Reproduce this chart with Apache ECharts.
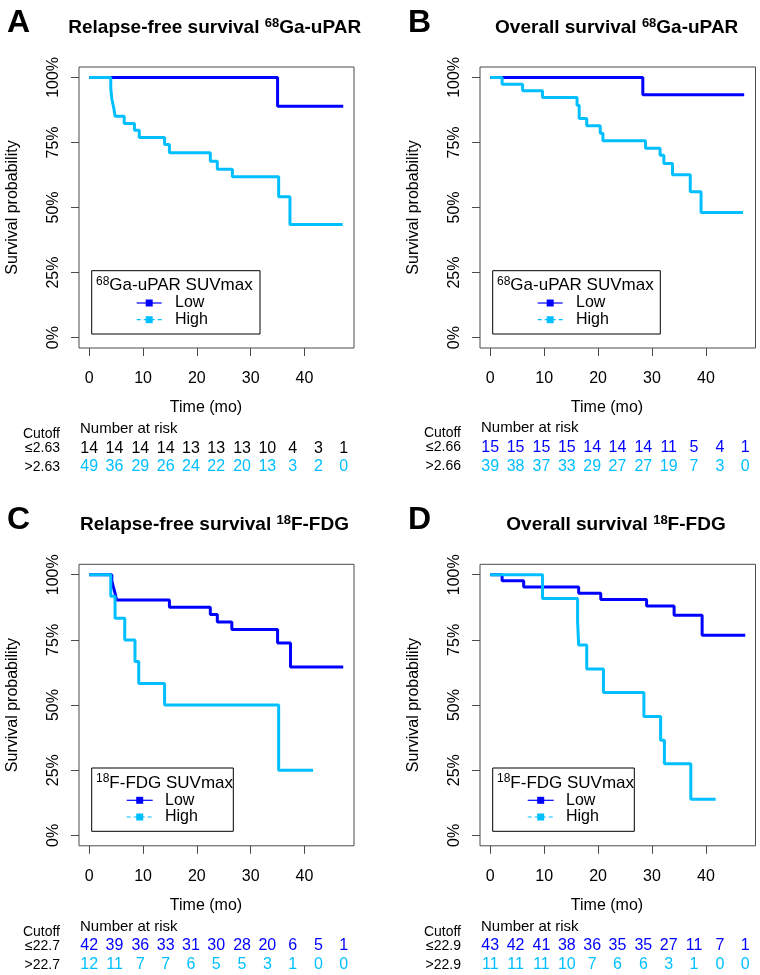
<!DOCTYPE html>
<html>
<head>
<meta charset="utf-8">
<title>Kaplan-Meier survival by SUVmax</title>
<script src="https://cdn.jsdelivr.net/npm/echarts@6/dist/echarts.min.js"></script>
<style>
  html, body { margin: 0; padding: 0; background: #fff; }
  #chart { width: 760px; height: 975px; }
</style>
</head>
<body>
<div id="chart"></div>
<script>
// ---- data: time (mo) / survival probability ----
var timeALow  = [0, 35.0, 47.2];
var survALow  = [1, 0.889, 0.889];
var timeAHigh = [0, 4.0, 4.2, 4.4, 4.6, 4.8, 6.5, 8.4, 9.3, 14.0, 14.9, 22.5, 23.8, 26.6, 35.2, 37.3, 47.1];
var survAHigh = [1, 0.959, 0.918, 0.898, 0.878, 0.851, 0.823, 0.797, 0.769, 0.742, 0.710, 0.678, 0.647, 0.618, 0.541, 0.435, 0.435];

var timeBLow  = [0, 28.3, 47.1];
var survBLow  = [1, 0.933, 0.933];
var timeBHigh = [0, 2.2, 6.0, 9.7, 16.1, 16.5, 17.9, 20.4, 20.9, 28.8, 31.5, 32.2, 33.8, 37.1, 39.1, 46.9];
var survBHigh = [1, 0.974, 0.949, 0.923, 0.893, 0.842, 0.814, 0.785, 0.757, 0.728, 0.701, 0.669, 0.626, 0.561, 0.481, 0.481];

var timeCLow  = [0, 4.2, 4.5, 4.8, 5.1, 14.9, 22.5, 23.8, 26.5, 35.0, 37.4, 47.2];
var survCLow  = [1, 0.976, 0.952, 0.929, 0.903, 0.875, 0.847, 0.819, 0.790, 0.738, 0.646, 0.646];
var timeCHigh = [0, 4.0, 4.8, 6.6, 8.5, 9.2, 14.0, 35.2, 41.6];
var survCHigh = [1, 0.917, 0.833, 0.750, 0.667, 0.583, 0.500, 0.250, 0.250];

var timeDLow  = [0, 2.2, 6.2, 16.4, 20.5, 29.0, 34.1, 39.3, 47.3];
var survDLow  = [1, 0.977, 0.953, 0.929, 0.905, 0.880, 0.845, 0.768, 0.768];
var timeDHigh = [0, 9.7, 16.2, 16.4, 17.9, 21.0, 28.5, 31.6, 32.3, 37.2, 41.8];
var survDHigh = [1, 0.909, 0.820, 0.730, 0.638, 0.548, 0.456, 0.365, 0.275, 0.139, 0.139];

// number at risk
var riskTimes = [0, 4.7, 9.5, 14.2, 18.9, 23.6, 28.4, 33.1, 37.8, 42.6, 47.3];
var riskALow  = [14, 14, 14, 14, 13, 13, 13, 10, 4, 3, 1];
var riskAHigh = [49, 36, 29, 26, 24, 22, 20, 13, 3, 2, 0];
var riskBLow  = [15, 15, 15, 15, 14, 14, 14, 11, 5, 4, 1];
var riskBHigh = [39, 38, 37, 33, 29, 27, 27, 19, 7, 3, 0];
var riskCLow  = [42, 39, 36, 33, 31, 30, 28, 20, 6, 5, 1];
var riskCHigh = [12, 11, 7, 7, 6, 5, 5, 3, 1, 0, 0];
var riskDLow  = [43, 42, 41, 38, 36, 35, 35, 27, 11, 7, 1];
var riskDHigh = [11, 11, 11, 10, 7, 6, 6, 3, 1, 0, 0];

var xTicks = [0, 10, 20, 30, 40];
var yTicks = [0, 0.25, 0.5, 0.75, 1];

var FONT = "'Liberation Sans', Arial, Helvetica, sans-serif";
var LOW = '#0000ff';
var HIGH = '#00bfff';
var FRAME = '#4a4a4a';

var panels = [
  { letter: 'A', kind: 'Relapse-free survival ', sup: '68', tracer: 'Ga-uPAR', cut: '2.63',
    x: 79, y: 67, w: 275, h: 281, cx: 214.7, ty: 28,
    low: [timeALow, survALow], high: [timeAHigh, survAHigh],
    riskLow: riskALow, riskHigh: riskAHigh, lowRow: '#000000',
    riskTop: 448.3, legW: 168.3, legLine: [45, 70], legText: 83.3 },
  { letter: 'B', kind: 'Overall survival ', sup: '68', tracer: 'Ga-uPAR', cut: '2.66',
    x: 480, y: 67, w: 275.5, h: 281, cx: 616.7, ty: 28,
    low: [timeBLow, survBLow], high: [timeBHigh, survBHigh],
    riskLow: riskBLow, riskHigh: riskBHigh, lowRow: LOW,
    riskTop: 447.5, legW: 167.6, legLine: [45, 70], legText: 83.3 },
  { letter: 'C', kind: 'Relapse-free survival ', sup: '18', tracer: 'F-FDG', cut: '22.7',
    x: 79, y: 564.3, w: 275, h: 281.5, cx: 214.5, ty: 525,
    low: [timeCLow, survCLow], high: [timeCHigh, survCHigh],
    riskLow: riskCLow, riskHigh: riskCHigh, lowRow: LOW,
    riskTop: 946, legW: 141.6, legLine: [35, 61], legText: 73.3 },
  { letter: 'D', kind: 'Overall survival ', sup: '18', tracer: 'F-FDG', cut: '22.9',
    x: 480, y: 564.3, w: 275.5, h: 281.5, cx: 616, ty: 525,
    low: [timeDLow, survDLow], high: [timeDHigh, survDHigh],
    riskLow: riskDLow, riskHigh: riskDHigh, lowRow: LOW,
    riskTop: 946, legW: 141.6, legLine: [35, 61], legText: 73.3 }
];

function zip(t, s) {
  return t.map(function (v, i) { return [v, s[i]]; });
}

function riskData(row, values) {
  return riskTimes.map(function (t, i) { return [t, row, values[i]]; });
}

function txt(x, y, text, size, opts) {
  opts = opts || {};
  return {
    type: 'text', x: x, y: y, rotation: opts.rotation || 0, z: 10,
    style: {
      text: text, fontSize: size, fontFamily: FONT,
      fontWeight: opts.bold ? 'bold' : 'normal',
      fill: opts.color || '#000',
      align: opts.align || 'left', verticalAlign: 'middle',
      rich: opts.rich
    }
  };
}

var grids = [], xAxes = [], yAxes = [], series = [], graphics = [];

panels.forEach(function (p, i) {
  var gi = i * 2;
  // main plot and risk table grids
  grids.push({ left: p.x, top: p.y, width: p.w, height: p.h, show: true,
    borderColor: FRAME, borderWidth: 1, backgroundColor: 'transparent' });
  grids.push({ left: p.x, top: p.riskTop, width: p.w, height: 18.7, show: false });

  xAxes.push({
    gridIndex: gi, type: 'value', min: -1.9, max: 49.2,
    axisLine: { show: false, onZero: false }, splitLine: { show: false },
    axisTick: { show: true, length: 8, customValues: xTicks, lineStyle: { color: FRAME } },
    axisLabel: { customValues: xTicks, fontSize: 16, fontFamily: FONT, color: '#000', margin: 23 }
  });
  xAxes.push({ gridIndex: gi + 1, type: 'value', min: -1.9, max: 49.2, show: false });

  yAxes.push({
    gridIndex: gi, type: 'value', min: -0.04, max: 1.04,
    axisLine: { show: false, onZero: false }, splitLine: { show: false },
    axisTick: { show: true, length: 8, customValues: yTicks, lineStyle: { color: FRAME } },
    axisLabel: {
      customValues: yTicks, rotate: 90, fontSize: 16, fontFamily: FONT, color: '#000', margin: 17,
      formatter: function (v) { return Math.round(v * 100) + '%'; }
    }
  });
  yAxes.push({ gridIndex: gi + 1, type: 'value', min: 0, max: 1, show: false });

  // survival curves
  [['Low', p.low, LOW], ['High', p.high, HIGH]].forEach(function (s) {
    series.push({
      name: s[0], type: 'line', step: 'end', xAxisIndex: gi, yAxisIndex: gi,
      data: zip(s[1][0], s[1][1]), symbol: 'none', silent: true,
      lineStyle: { color: s[2], width: 3 }
    });
  });

  // number at risk
  [[1, p.riskLow, p.lowRow], [0, p.riskHigh, HIGH]].forEach(function (r) {
    series.push({
      type: 'scatter', xAxisIndex: gi + 1, yAxisIndex: gi + 1,
      data: riskData(r[0], r[1]), symbolSize: 1, silent: true,
      itemStyle: { color: 'rgba(0,0,0,0)', opacity: 1 },
      label: {
        show: true, position: 'inside', fontSize: 16, fontFamily: FONT, color: r[2],
        opacity: 1, textBorderWidth: 0,
        formatter: function (d) { return String(d.value[2]); }
      }
    });
  });

  // panel letter and title
  graphics.push(txt(p.x - 60.5, p.ty - 5, p.letter, 32, { bold: true, align: 'center' }));
  graphics.push(txt(p.cx, p.ty, '{b|' + p.kind + '}{s|' + p.sup + '}{b|' + p.tracer + '}', 19, {
    bold: true, align: 'center',
    rich: {
      b: { fontSize: 19, fontWeight: 'bold', fontFamily: FONT, lineHeight: 22 },
      s: { fontSize: 13, fontWeight: 'bold', fontFamily: FONT, lineHeight: 17, verticalAlign: 'top' }
    }
  }));

  // axis titles
  graphics.push(txt(p.x - 66, p.y + p.h / 2, 'Survival probability', 16, { align: 'center', rotation: Math.PI / 2 }));
  graphics.push(txt(p.x + 127, p.y + 341, 'Time (mo)', 16, { align: 'center' }));

  // legend box
  var lx = p.x + 12.7, ly = p.y + 203.7;
  graphics.push({ type: 'rect', z: 9, shape: { x: lx, y: ly, width: p.legW, height: 63.3 },
    style: { fill: '#fff', stroke: '#000', lineWidth: 1 } });
  graphics.push(txt(lx + 4.3, ly + 15, '{s|' + p.sup + '}{n|' + p.tracer + ' SUVmax}', 17, {
    rich: {
      n: { fontSize: 17, fontFamily: FONT, lineHeight: 20 },
      s: { fontSize: 12, fontFamily: FONT, lineHeight: 14, verticalAlign: 'top' }
    }
  }));
  [['Low', LOW, null, 32.3], ['High', HIGH, [4, 3], 49]].forEach(function (e) {
    var yy = ly + e[3];
    graphics.push({ type: 'line', z: 10,
      shape: { x1: lx + p.legLine[0], y1: yy, x2: lx + p.legLine[1], y2: yy },
      style: { stroke: e[1], lineWidth: 1.2, lineDash: e[2] } });
    var mid = lx + (p.legLine[0] + p.legLine[1]) / 2;
    graphics.push({ type: 'rect', z: 11, shape: { x: mid - 3.5, y: yy - 3.5, width: 7, height: 7 },
      style: { fill: e[1] } });
    graphics.push(txt(lx + p.legText, yy, e[0], 16));
  });

  // risk table labels
  var right = p.x - 19;
  graphics.push(txt(p.x + 1, p.riskTop - 19.3, 'Number at risk', 15));
  graphics.push(txt(right, p.riskTop - 14, 'Cutoff', 14, { align: 'right' }));
  graphics.push(txt(right, p.riskTop, '\u2264' + p.cut, 14, { align: 'right' }));
  graphics.push(txt(right, p.riskTop + 18.7, '>' + p.cut, 14, { align: 'right' }));
});

var myChart = echarts.init(document.getElementById('chart'), null, { renderer: 'canvas' });
myChart.setOption({
  animation: false,
  backgroundColor: '#ffffff',
  grid: grids,
  xAxis: xAxes,
  yAxis: yAxes,
  series: series,
  graphic: graphics
});
</script>
</body>
</html>
